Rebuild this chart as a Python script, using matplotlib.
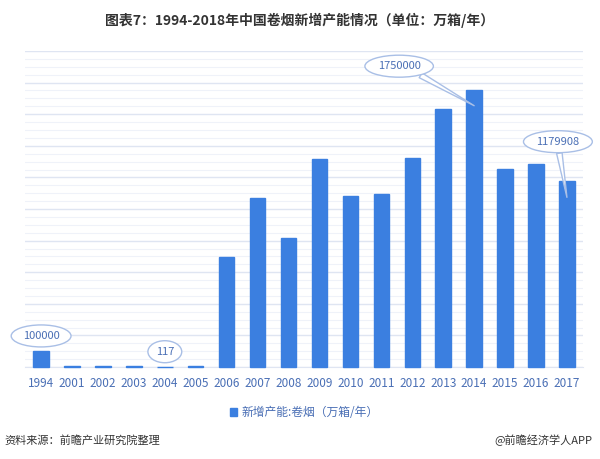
import numpy as np
import matplotlib.pyplot as plt
from matplotlib.ticker import MultipleLocator
from matplotlib.transforms import offset_copy

plt.rcParams['font.family'] = ['Noto Sans CJK SC', 'DejaVu Sans']

# data (unit: 万箱/年)
years = ['1994', '2001', '2002', '2003', '2004', '2005', '2006', '2007', '2008',
         '2009', '2010', '2011', '2012', '2013', '2014', '2015', '2016', '2017']
capacity = [100000, 5000, 5000, 5000, 117, 5000, 697000, 1071000, 818000,
            1319000, 1084000, 1097000, 1325000, 1630000, 1750000, 1255000, 1287000, 1179908]
# callout offsets from bar top (points) and where the tail lands (fraction of bar height)
labelled = {'1994': (0, 11, None), '2004': (0, 11, None),
            '2014': (-54, 17.5, 0.945), '2017': (-6.5, 28, 0.91)}

bar_color = '#3b7fe0'
bubble_edge = '#a9bfe6'
text_blue = '#4a6fb5'

fig = plt.figure(figsize=(6, 4.59), dpi=100)
ax = fig.add_axes([0.0417, 0.2004, 0.93, 0.6885])

x = np.arange(len(years))
bars = ax.bar(x, capacity, width=0.5, color=bar_color, edgecolor=bar_color,
              linewidth=1.0, label='新增产能:卷烟（万箱/年）', zorder=3)
for b in bars:
    b.set_clip_on(False)

ax.set_xlim(-0.52, len(years) - 0.48)
ax.set_ylim(0, 2000000)
ax.yaxis.set_major_locator(MultipleLocator(200000))
ax.yaxis.set_minor_locator(MultipleLocator(50000))
ax.grid(axis='y', which='major', color='#dfe5f2', linewidth=1.0, zorder=0)
ax.grid(axis='y', which='minor', color='#eff2f9', linewidth=0.8, zorder=0)
ax.tick_params(axis='y', which='both', left=False, labelleft=False)
ax.set_xticks(x)
ax.set_xticklabels(years, color=text_blue, fontsize=8.5)
ax.tick_params(axis='x', length=0, pad=7)
for side in ['top', 'right', 'left']:
    ax.spines[side].set_visible(False)
ax.spines['bottom'].set_color('#dfe5f2')
ax.spines['bottom'].set_zorder(1)

# callout bubbles
bubble = dict(boxstyle='ellipse,pad=0.25', fc='white', ec=bubble_edge, lw=1.0)
for yr, (dx, dy, tail) in labelled.items():
    i = years.index(yr)
    v = capacity[i]
    where = offset_copy(ax.transData, fig=fig, x=dx, y=dy, units='points')
    arrow = None
    target = (i, v)
    if tail is not None:
        target = (i, v * tail)
        arrow = dict(arrowstyle='wedge,tail_width=0.5', fc='white', ec=bubble_edge,
                     lw=1.0, shrinkA=0, shrinkB=0,
                     relpos=(0.75, 0.2) if yr == '2014' else (0.5, 0.2))
    ax.annotate(str(v), xy=target, xytext=(i, v), textcoords=where,
                ha='center', va='center', fontsize=8, color=text_blue, zorder=5,
                bbox=bubble, arrowprops=arrow)

ax.legend(loc='upper center', bbox_to_anchor=(0.5, -0.09), frameon=False,
          handlelength=0.6, handleheight=0.6, handletextpad=0.4,
          fontsize=8.5, labelcolor=text_blue)

fig.text(0.5, 0.956, '图表7：1994-2018年中国卷烟新增产能情况（单位：万箱/年）',
         ha='center', va='center', fontsize=10, fontweight='bold', color='#333333')
fig.text(0.008, 0.04, '资料来源：前瞻产业研究院整理', ha='left', va='center',
         fontsize=8, style='italic', color='#333333')
fig.text(0.988, 0.04, '@前瞻经济学人APP', ha='right', va='center',
         fontsize=8, color='#333333')

fig.savefig('out.png', dpi=100)
